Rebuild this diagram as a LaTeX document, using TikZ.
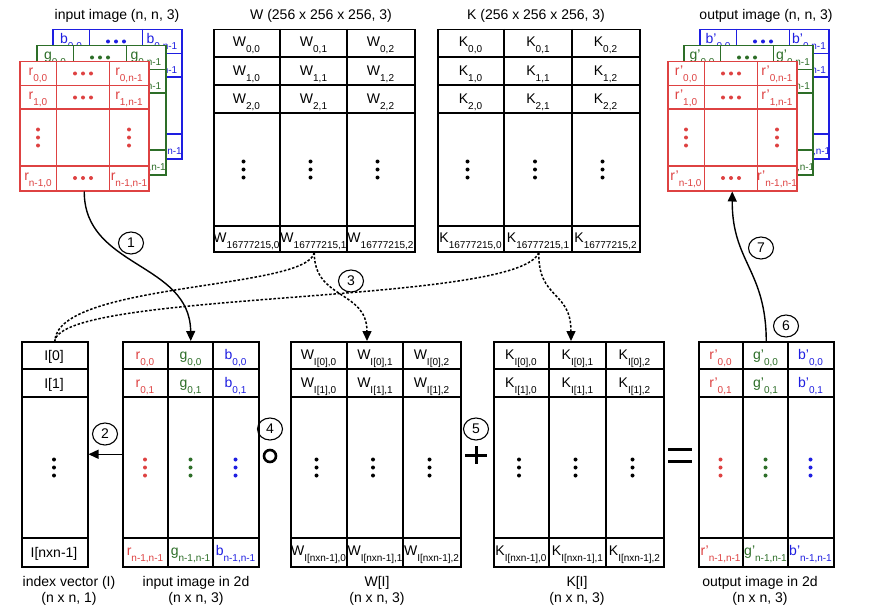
\documentclass[tikz,border=0pt]{standalone}
\usepackage{fontspec}
\setmainfont{Liberation Sans}
\usetikzlibrary{arrows.meta,shapes.geometric}
\definecolor{cR}{RGB}{222,66,66}
\definecolor{cG}{RGB}{45,110,40}
\definecolor{cB}{RGB}{30,30,225}
\newcommand{\subl}[2]{#1\raisebox{-6pt}{\fontsize{10}{10}\selectfont #2}}
\newcommand{\hdots}[2]{\fill (#1-8,#2) circle (2pt) (#1,#2) circle (2pt) (#1+8,#2) circle (2pt);}
\newcommand{\vdotsx}[2]{\fill (#1,#2-8) circle (2pt) (#1,#2) circle (2pt) (#1,#2+8) circle (2pt);}
% image layer: #1 x, #2 y, #3 colour, #4 letter, #5 node name
\newcommand{\stacklayer}[5]{%
  \begin{scope}[shift={(#1,#2)}]
    \node[imglayer, draw=#3] (#5) at (0,0) {};
    \draw[#3, gridline] (37.5,0) -- (37.5,129) (90.5,0) -- (90.5,129)
      (0,24.5) -- (129,24.5) (0,48) -- (129,48) (0,105) -- (129,105);
    \begin{scope}[#3]
      \node[lbl] at (19,14.5) {\subl{#4}{0,0}};
      \hdots{64}{12.5}
      \node[lbl] at (110,14.5) {\subl{#4}{0,n-1}};
      \node[lbl] at (19,38.5) {\subl{#4}{1,0}};
      \hdots{64}{36.5}
      \node[lbl] at (110,38.5) {\subl{#4}{1,n-1}};
      \vdotsx{19}{76.5}
      \vdotsx{110}{76.5}
      \node[lbl] at (19,119) {\subl{#4}{n-1,0}};
      \hdots{64}{117}
      \node[lbl] at (110,119) {\subl{#4}{n-1,n-1}};
    \end{scope}
  \end{scope}}
\begin{document}
\begin{tikzpicture}[x=1pt,y=-1pt,font=\fontsize{14}{16}\selectfont,
  gridline/.style={line width=1.5pt},
  imglayer/.style={fill=white,line width=1.5pt,minimum width=129pt,minimum height=129pt,anchor=north west,inner sep=0pt},
  tbl/.style={draw,line width=1.5pt,anchor=north west,inner sep=0pt},
  lbl/.style={anchor=base,inner sep=0pt},
  captxt/.style={align=center,inner sep=0pt},
  num/.style={ellipse,draw,line width=1.1pt,minimum width=25pt,minimum height=22pt,inner sep=0pt},
  conn/.style={line width=1.4pt},
  dconn/.style={line width=1.5pt,dash pattern=on 2.5pt off 1.8pt},
  arrowtip/.style={-{Triangle[length=10pt,width=9pt]}}]
\useasboundingbox (0,0) rectangle (870,610);
\fill[white] (0,0) rectangle (870,610);

% ---------- input image stack ----------
\node[captxt] (tin) at (117,16) {input image (n, n, 3)};
\stacklayer{52}{29}{cB}{b}{inB}
\stacklayer{36}{45}{cG}{g}{inG}
\stacklayer{19}{61}{cR}{r}{inR}

% ---------- output image stack ----------
\node[captxt] (tout) at (766,16) {output image (n, n, 3)};
\stacklayer{699}{29}{cB}{b'}{outB}
\stacklayer{683}{45}{cG}{g'}{outG}
\stacklayer{667}{61}{cR}{r'}{outR}

% ---------- W table ----------
\node[captxt] (tW) at (321,16) {W (256 x 256 x 256, 3)};
\node[tbl,minimum width=201pt,minimum height=222pt] (W) at (213,29) {};
\draw[gridline] (280,29) -- (280,251) (347,29) -- (347,251)
  (213,57) -- (414,57) (213,85) -- (414,85) (213,113) -- (414,113) (213,226) -- (414,226);
\foreach \c/\x in {0/246.5,1/313.5,2/380.5}{
  \node[lbl] at (\x,47) {\subl{W}{0,\c}};
  \node[lbl] at (\x,75) {\subl{W}{1,\c}};
  \node[lbl] at (\x,103) {\subl{W}{2,\c}};
  \vdotsx{\x-3}{169.5}
  \node[lbl] at (\x,242) {\subl{W}{16777215,\c}};
}

% ---------- K table ----------
\node[captxt] (tK) at (536,16) {K (256 x 256 x 256, 3)};
\node[tbl,minimum width=202pt,minimum height=222pt] (K) at (437,29) {};
\draw[gridline] (504,29) -- (504,251) (572,29) -- (572,251)
  (437,57) -- (639,57) (437,85) -- (639,85) (437,113) -- (639,113) (437,226) -- (639,226);
\foreach \c/\x in {0/470.5,1/538,2/605.5}{
  \node[lbl] at (\x,47) {\subl{K}{0,\c}};
  \node[lbl] at (\x,75) {\subl{K}{1,\c}};
  \node[lbl] at (\x,103) {\subl{K}{2,\c}};
  \vdotsx{\x-3}{169.5}
  \node[lbl] at (\x,242) {\subl{K}{16777215,\c}};
}

% ---------- index vector ----------
\node[tbl,minimum width=66pt,minimum height=225pt] (idx) at (21,341) {};
\draw[gridline] (21,369) -- (87,369) (21,397) -- (87,397) (21,538) -- (87,538);
\node[lbl] at (54,360) {I[0]};
\node[lbl] at (54,388) {I[1]};
\vdotsx{54}{467.5}
\node[lbl] at (54,557) {I[nxn-1]};
\node[captxt] (cidx) at (69,591) {index vector (I)\\(n x n, 1)};

% ---------- input image in 2d ----------
\node[tbl,minimum width=136pt,minimum height=225pt] (in2d) at (122,341) {};
\draw[gridline] (168,341) -- (168,566) (213,341) -- (213,566)
  (122,369) -- (258,369) (122,397) -- (258,397) (122,538) -- (258,538);
\foreach \col/\l/\x in {cR/r/145,cG/g/190.5,cB/b/235.5}{
  \begin{scope}[\col]
  \node[lbl] at (\x,359) {\subl{\l}{0,0}};
  \node[lbl] at (\x,387) {\subl{\l}{0,1}};
  \vdotsx{\x}{467.5}
  \node[lbl] at (\x,555) {\subl{\l}{n-1,n-1}};
  \end{scope}
}
\node[captxt] (cin2d) at (196,591) {input image in 2d\\(n x n, 3)};

% ---------- W[I] ----------
\node[tbl,minimum width=170pt,minimum height=225pt] (WI) at (290,341) {};
\draw[gridline] (347,341) -- (347,566) (403,341) -- (403,566)
  (290,369) -- (460,369) (290,397) -- (460,397) (290,538) -- (460,538);
\foreach \c/\x in {0/318.5,1/375,2/431.5}{
  \node[lbl] at (\x,359) {\subl{W}{I[0],\c}};
  \node[lbl] at (\x,387) {\subl{W}{I[1],\c}};
  \vdotsx{\x-2}{467.5}
  \node[lbl] at (\x,555) {\subl{W}{I[nxn-1],\c}};
}
\node[captxt] (cWI) at (377,591) {W[I]\\(n x n, 3)};

% ---------- K[I] ----------
\node[tbl,minimum width=170pt,minimum height=225pt] (KI) at (493,341) {};
\draw[gridline] (549,341) -- (549,566) (606,341) -- (606,566)
  (493,369) -- (663,369) (493,397) -- (663,397) (493,538) -- (663,538);
\foreach \c/\x in {0/521,1/577.5,2/634.5}{
  \node[lbl] at (\x,359) {\subl{K}{I[0],\c}};
  \node[lbl] at (\x,387) {\subl{K}{I[1],\c}};
  \vdotsx{\x-2}{467.5}
  \node[lbl] at (\x,555) {\subl{K}{I[nxn-1],\c}};
}
\node[captxt] (cKI) at (577,591) {K[I]\\(n x n, 3)};

% ---------- output image in 2d ----------
\node[tbl,minimum width=135pt,minimum height=225pt] (out2d) at (698,341) {};
\draw[gridline] (743,341) -- (743,566) (788,341) -- (788,566)
  (698,369) -- (833,369) (698,397) -- (833,397) (698,538) -- (833,538);
\foreach \col/\l/\x in {cR/r'/720.5,cG/g'/765.5,cB/b'/810.5}{
  \begin{scope}[\col]
  \node[lbl] at (\x,359) {\subl{\l}{0,0}};
  \node[lbl] at (\x,387) {\subl{\l}{0,1}};
  \vdotsx{\x}{467.5}
  \node[lbl] at (\x,555) {\subl{\l}{n-1,n-1}};
  \end{scope}
}
\node[captxt] (cout2d) at (760,591) {output image in 2d\\(n x n, 3)};

% ---------- operators ----------
\node[circle,draw,line width=2.6pt,minimum size=12pt,inner sep=0pt] (opH) at (270,456) {};
\draw[line width=3pt] (465,455) -- (487,455) (476,446) -- (476,464);
\draw[line width=3pt] (668,449) -- (692,449) (668,461) -- (692,461);
\node[num] (n4) at (270,429) {4};
\node[num] (n5) at (476,429) {5};

% ---------- connectors ----------
\coordinate (WIin) at (367,341);
\coordinate (KIin) at (571,341);
\draw[conn,arrowtip] (inR.south) .. controls (84,268) and (190,262) .. (in2d.north);
\node[num] (n1) at (131,243) {1};
\draw[conn,arrowtip] (in2d.west) -- (idx.east);
\node[num] (n2) at (105,434) {2};
\draw[dconn,arrowtip] (W.south) .. controls (314,300) and (367,290) .. (WIin);
\draw[dconn] (W.south) .. controls (308,290) and (58,282) .. (idx.north);
\draw[dconn,arrowtip] (K.south) .. controls (538,300) and (571,290) .. (KIin);
\draw[dconn] (K.south) .. controls (520,305) and (62,290) .. (idx.north);
\node[num] (n3) at (351,281) {3};
\draw[conn,arrowtip] (out2d.north) .. controls (766,270) and (732,262) .. (outR.south);
\node[num] (n7) at (761,248) {7};
\node[num] (n6) at (786,326) {6};
\end{tikzpicture}
\end{document}
